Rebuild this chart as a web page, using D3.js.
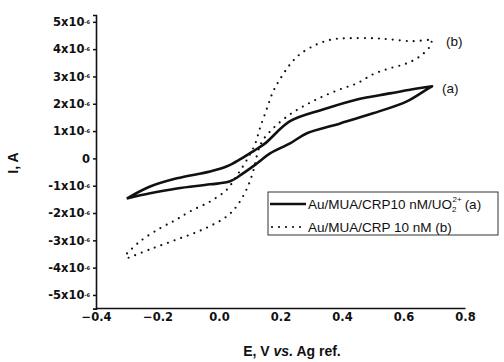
<!DOCTYPE html>
<meta charset="utf-8">
<style>
body { margin: 0; background: #fff; }
.tick text { font: bold 11.5px "DejaVu Sans", sans-serif; fill: #111; }
.lab { font: bold 14px "Liberation Sans", Arial, sans-serif; fill: #111; }
.leg { font: 13.5px "Liberation Sans", Arial, sans-serif; fill: #111; }
</style>
<svg width="504" height="362"></svg>
<script src="https://d3js.org/d3.v7.min.js"></script>
<script>

// curve (a): Au/MUA/CRP10 nM/UO2 2+, current in units of 1e-6 A
var aFwdE = [-0.30, -0.224, -0.137, -0.029, 0.026, 0.068, 0.111, 0.150, 0.231, 0.338, 0.449, 0.556, 0.644, 0.693];
var aFwdI = [-1.47, -1.03, -0.73, -0.48, -0.29, -0.04, 0.26, 0.55, 1.36, 1.79, 2.16, 2.38, 2.56, 2.64];
var aRevE = [0.693, 0.676, 0.611, 0.501, 0.394, 0.286, 0.231, 0.166, 0.124, 0.078, 0.036, -0.029, -0.137, -0.224, -0.30];
var aRevI = [2.64, 2.53, 2.09, 1.65, 1.28, 0.92, 0.55, 0.18, -0.18, -0.55, -0.84, -0.95, -1.10, -1.28, -1.47];

// curve (b): Au/MUA/CRP 10 nM
var bFwdE = [-0.299, -0.257, -0.192, -0.143, -0.094, -0.029, 0.026, 0.052, 0.078, 0.101, 0.117, 0.133, 0.156, 0.176, 0.198, 0.231, 0.263, 0.319, 0.371, 0.426, 0.501, 0.556, 0.631, 0.693];
var bFwdI = [-3.48, -3.04, -2.56, -2.27, -1.94, -1.58, -1.14, -0.73, -0.29, 0.15, 0.51, 1.10, 1.83, 2.45, 2.89, 3.44, 3.81, 4.18, 4.36, 4.40, 4.40, 4.36, 4.29, 4.36];
var bRevE = [0.693, 0.686, 0.654, 0.611, 0.556, 0.501, 0.449, 0.394, 0.338, 0.286, 0.231, 0.176, 0.140, 0.127, 0.111, 0.091, 0.062, 0.026, -0.052, -0.137, -0.224, -0.299];
var bRevI = [4.36, 4.10, 3.74, 3.48, 3.30, 3.08, 2.75, 2.53, 2.27, 1.98, 1.61, 1.10, 0.62, 0.26, -0.48, -1.10, -1.68, -2.12, -2.60, -2.97, -3.33, -3.66];

var xTicks = [-0.4, -0.2, 0.0, 0.2, 0.4, 0.6, 0.8];
var yTicks = [-5, -4, -3, -2, -1, 0, 1, 2, 3, 4, 5];

var svg = d3.select("svg");

var x = d3.scaleLinear().domain([-0.4, 0.8]).range([96, 465]);
var y = d3.scaleLinear().domain([-5.5, 5.25]).range([308.6, 15]);

function pts(e1, i1, e2, i2) {
  var p = e1.map(function(e, k) { return [e, i1[k]]; });
  return p.concat(e2.map(function(e, k) { return [e, i2[k]]; }));
}

var line = d3.line()
  .x(function(d) { return x(d[0]); })
  .y(function(d) { return y(d[1]); })
  .curve(d3.curveCatmullRom.alpha(0.5));

// Y axis
var yAxis = svg.append("g")
  .attr("transform", "translate(96,0)")
  .call(d3.axisLeft(y).tickValues(yTicks).tickSize(3).tickFormat(function(d) { return d == 0 ? "0" : d + "x10"; }));
yAxis.select(".domain").attr("stroke", "#111").attr("stroke-width", 1.6);
yAxis.selectAll(".tick line").attr("stroke", "#111").attr("stroke-width", 1.5);
yAxis.selectAll(".tick text").attr("x", -6)
  .filter(function(d) { return d != 0; })
  .append("tspan").attr("dy", "-0.45em").style("font-size", "5px").text("-6");

// X axis
var xAxis = svg.append("g")
  .attr("transform", "translate(0,308)")
  .call(d3.axisBottom(x).tickValues(xTicks).tickSize(0).tickPadding(5).tickFormat(d3.format(".1f")));
xAxis.select(".domain").attr("stroke", "#111").attr("stroke-width", 1.6);

// curves
svg.append("path")
  .attr("d", line(pts(bFwdE, bFwdI, bRevE, bRevI)))
  .attr("fill", "none").attr("stroke", "#111").attr("stroke-width", 2.2)
  .attr("stroke-linecap", "round").attr("stroke-dasharray", "0,7");

svg.append("path")
  .attr("d", line(pts(aFwdE, aFwdI, aRevE, aRevI)))
  .attr("fill", "none").attr("stroke", "#111").attr("stroke-width", 2.6)
  .attr("stroke-linejoin", "round");

svg.append("text").attr("class", "leg").attr("x", 446).attr("y", 46).text("(b)");
svg.append("text").attr("class", "leg").attr("x", 442).attr("y", 93).text("(a)");

// legend
var leg = svg.append("g");
leg.append("rect").attr("x", 268).attr("y", 192).attr("width", 230).attr("height", 43)
  .attr("fill", "#fff").attr("stroke", "#333").attr("stroke-width", 1);
leg.append("line").attr("x1", 270).attr("x2", 306).attr("y1", 204).attr("y2", 204)
  .attr("stroke", "#111").attr("stroke-width", 2.6);
leg.append("line").attr("x1", 272).attr("x2", 306).attr("y1", 227).attr("y2", 227)
  .attr("stroke", "#111").attr("stroke-width", 2.2).attr("stroke-linecap", "round").attr("stroke-dasharray", "0,7");
var ta = leg.append("text").attr("class", "leg").attr("x", 308).attr("y", 209);
ta.append("tspan").text("Au/MUA/CRP10 nM/UO");
ta.append("tspan").attr("dy", 3).style("font-size", "8px").text("2");
ta.append("tspan").attr("dx", -4).attr("dy", -10).style("font-size", "8px").text("2+");
ta.append("tspan").attr("dx", 3).attr("dy", 7).text("(a)");
leg.append("text").attr("class", "leg").attr("x", 308).attr("y", 232).text("Au/MUA/CRP 10 nM (b)");

// axis titles
var xt = svg.append("text").attr("class", "lab").attr("x", 292).attr("y", 356).attr("text-anchor", "middle");
xt.append("tspan").text("E, V ");
xt.append("tspan").style("font-style", "italic").text("vs.");
xt.append("tspan").text(" Ag ref.");

svg.append("text").attr("class", "lab")
  .attr("transform", "translate(18,163) rotate(-90)")
  .attr("text-anchor", "middle").text("I, A");

</script>
